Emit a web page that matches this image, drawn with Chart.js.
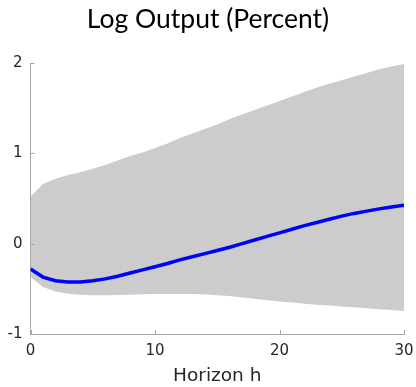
<!DOCTYPE html>
<html>
<head>
<meta charset="utf-8">
<script src="https://cdn.jsdelivr.net/npm/chart.js@4/dist/chart.umd.min.js"></script>
<style>
  html, body { margin: 0; padding: 0; background: #fff; }
  #wrap { width: 416px; height: 387px; }
</style>
</head>
<body>
<div id="wrap"><canvas id="chart"></canvas></div>
<script>
// impulse response, horizons 0..30
var horizons = [0,1,2,3,4,5,6,7,8,9,10,11,12,13,14,15,16,17,18,19,20,21,22,23,24,25,26,27,28,29,30];
var median = [-0.28,-0.37,-0.41,-0.425,-0.425,-0.41,-0.39,-0.36,-0.325,-0.29,-0.255,-0.22,-0.18,-0.145,-0.11,-0.075,-0.04,0.0,0.04,0.08,0.12,0.16,0.2,0.235,0.27,0.305,0.335,0.36,0.385,0.405,0.425];
var upper = [0.52,0.66,0.72,0.76,0.79,0.83,0.87,0.92,0.97,1.01,1.06,1.11,1.17,1.22,1.27,1.32,1.38,1.43,1.48,1.53,1.58,1.63,1.68,1.73,1.77,1.81,1.85,1.89,1.93,1.96,1.99];
var lower = [-0.37,-0.48,-0.53,-0.555,-0.565,-0.57,-0.57,-0.568,-0.565,-0.56,-0.557,-0.556,-0.556,-0.558,-0.563,-0.57,-0.58,-0.595,-0.61,-0.625,-0.64,-0.65,-0.665,-0.675,-0.685,-0.695,-0.705,-0.715,-0.725,-0.735,-0.745];
var xTicks = [0, 10, 20, 30];
var yTicks = [-1, 0, 1, 2];

var tickFont = "'DejaVu Sans', sans-serif";

function toPoints(vals) {
    return horizons.map(function(h, i) { return {x: h, y: vals[i]}; });
}

// small tick marks pointing into the plot, like matlab
var innerTicks = {
    id: 'innerTicks',
    afterDatasetsDraw: function(chart) {
        var ctx = chart.ctx, xs = chart.scales.x, ys = chart.scales.y;
        var area = chart.chartArea;
        ctx.save();
        ctx.strokeStyle = '#a6a6a6';
        ctx.lineWidth = 1;
        ctx.beginPath();
        xTicks.forEach(function(t) {
            var px = Math.round(xs.getPixelForValue(t)) + 0.5;
            ctx.moveTo(px, area.bottom);
            ctx.lineTo(px, area.bottom - 4);
        });
        yTicks.forEach(function(t) {
            var py = Math.round(ys.getPixelForValue(t)) + 0.5;
            ctx.moveTo(area.left, py);
            ctx.lineTo(area.left + 4, py);
        });
        ctx.stroke();
        ctx.restore();
    }
};

var ctx = document.getElementById('chart').getContext('2d');
var chart = new Chart(ctx, {
    type: 'line',
    data: {
        datasets: [
            {
                label: 'median',
                data: toPoints(median),
                borderColor: '#0000ff',
                borderWidth: 3.5,
                pointRadius: 0,
                fill: false,
                tension: 0,
                order: 0
            },
            {
                label: 'upper',
                data: toPoints(upper),
                borderWidth: 0,
                borderColor: 'rgba(0,0,0,0)',
                backgroundColor: '#cccccc',
                pointRadius: 0,
                fill: '+1',
                order: 1
            },
            {
                label: 'lower',
                data: toPoints(lower),
                borderWidth: 0,
                borderColor: 'rgba(0,0,0,0)',
                pointRadius: 0,
                fill: false,
                order: 2
            }
        ]
    },
    options: {
        responsive: true,
        maintainAspectRatio: false,
        animation: false,
        layout: { padding: 0 },
        plugins: {
            legend: { display: false },
            tooltip: { enabled: false },
            title: {
                display: true,
                text: 'Log Output (Percent)',
                color: '#000000',
                font: { family: 'Lato', size: 26.5, weight: 'normal', lineHeight: 1.2 },
                padding: { top: 4, bottom: 27.2 }
            }
        },
        scales: {
            x: {
                type: 'linear',
                min: 0,
                max: 30,
                afterBuildTicks: function(scale) {
                    scale.ticks = xTicks.map(function(v) { return {value: v}; });
                },
                afterFit: function(scale) {
                    scale.height = 53;
                    scale.paddingRight = 12;
                    scale.paddingLeft = 0;
                },
                grid: { display: false, drawTicks: false },
                border: { display: true, color: '#a6a6a6', width: 1 },
                ticks: {
                    color: '#262626',
                    font: { family: tickFont, size: 15 },
                    padding: 8,
                    maxRotation: 0
                },
                title: {
                    display: true,
                    text: 'Horizon h',
                    color: '#262626',
                    font: { family: tickFont, size: 18.5 },
                    padding: { top: 7, bottom: 0 }
                }
            },
            y: {
                min: -1,
                max: 2,
                afterBuildTicks: function(scale) {
                    scale.ticks = yTicks.map(function(v) { return {value: v}; });
                },
                afterFit: function(scale) { scale.width = 30.5; },
                grid: { display: false, drawTicks: false },
                border: { display: true, color: '#a6a6a6', width: 1 },
                ticks: {
                    color: '#262626',
                    font: { family: tickFont, size: 15 },
                    padding: 8
                }
            }
        }
    },
    plugins: [innerTicks]
});
</script>
</body>
</html>
